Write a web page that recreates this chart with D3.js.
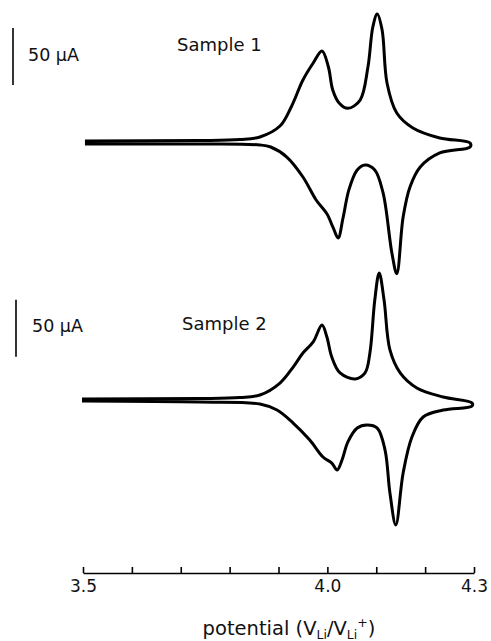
<!DOCTYPE html>
<html>
<head>
<meta charset="utf-8">
<script src="https://cdn.jsdelivr.net/npm/d3@7"></script>
<style>
  body { margin: 0; background: #fff; }
  text { font-family: "DejaVu Sans", sans-serif; fill: #111; }
</style>
</head>
<body>
<svg width="491" height="641"></svg>
<script>
// potential (V) / current (uA), anodic sweep then cathodic sweep
const sample1Potential = [3.504, 3.739, 3.821, 3.862, 3.903, 3.926, 3.950, 3.971, 3.989, 4.002, 4.011, 4.024, 4.042, 4.067, 4.083, 4.093, 4.102, 4.112, 4.122, 4.142, 4.175, 4.230, 4.292,
  4.292, 4.230, 4.190, 4.169, 4.155, 4.142, 4.132, 4.114, 4.097, 4.077, 4.061, 4.044, 4.032, 4.022, 4.012, 3.999, 3.977, 3.950, 3.917, 3.884, 3.862, 3.739, 3.504];
const sample1Current = [0.9, 1.3, 2.2, 4.4, 14.0, 30.7, 54.4, 69.3, 79.8, 66.0, 45.6, 34.2, 29.5, 36.8, 65.8, 100.9, 112.3, 98.2, 51.8, 25.4, 12.3, 3.5, -0.9,
  -4.4, -9.6, -21.9, -39.5, -65.8, -115.5, -97.4, -44.7, -24.6, -20.2, -24.6, -42.0, -66.7, -84.2, -75.4, -63.0, -50.9, -30.7, -13.2, -4.4, -2.6, -1.8, -1.8];

const sample2Potential = [3.498, 3.739, 3.821, 3.862, 3.903, 3.930, 3.950, 3.971, 3.989, 3.999, 4.009, 4.026, 4.057, 4.077, 4.087, 4.097, 4.106, 4.116, 4.128, 4.149, 4.183, 4.237, 4.296,
  4.296, 4.237, 4.196, 4.173, 4.155, 4.140, 4.128, 4.118, 4.102, 4.081, 4.061, 4.042, 4.030, 4.020, 4.009, 3.991, 3.964, 3.930, 3.897, 3.862, 3.739, 3.498];
const sample2Current = [0.9, 1.3, 2.2, 4.4, 14.9, 28.9, 41.2, 50.9, 65.8, 55.3, 37.7, 23.7, 18.4, 23.7, 41.2, 87.7, 111.4, 87.7, 43.9, 23.7, 10.5, 2.6, -2.6,
  -5.3, -8.8, -14.9, -32.5, -64.0, -109.6, -81.6, -43.9, -24.6, -21.9, -24.6, -36.8, -52.6, -61.4, -55.3, -50.0, -35.1, -20.2, -8.8, -3.5, -1.8, -0.9];

const tickValues = [3.5, 3.6, 3.7, 3.8, 3.9, 4.0, 4.1, 4.2, 4.3];
const tickLabels = [3.5, 4.0, 4.3];
const sampleNames = ["Sample 1", "Sample 2"];
const scaleBarLabel = "50 \u00b5A";

const svg = d3.select("svg");

const x = d3.scaleLinear().domain([3.5, 4.3]).range([83, 474]);
// 50 uA = 57 px, each panel has its own zero line
const y1 = d3.scaleLinear().domain([0, 50]).range([142, 85]);
const y2 = d3.scaleLinear().domain([0, 50]).range([400, 343]);

const line = d3.line().curve(d3.curveCatmullRom.alpha(0.5));

const panels = [
  { name: sampleNames[0], y: y1, v: sample1Potential, i: sample1Current, barFrom: 50, barX: 13, labelX: 28, nameX: 177, nameY: 45 },
  { name: sampleNames[1], y: y2, v: sample2Potential, i: sample2Current, barFrom: 38, barX: 16, labelX: 32, nameX: 182, nameY: 324 }
];

panels.forEach((p) => {
  const pts = p.v.map((v, k) => [x(v), p.y(p.i[k])]);
  svg.append("path")
    .attr("d", line(pts))
    .attr("fill", "none")
    .attr("stroke", "#000")
    .attr("stroke-width", 3)
    .attr("stroke-linejoin", "round");

  // 50 uA scale bar
  const top = p.y(p.barFrom + 50);
  const bottom = p.y(p.barFrom);
  svg.append("line")
    .attr("x1", p.barX).attr("x2", p.barX)
    .attr("y1", top).attr("y2", bottom)
    .attr("stroke", "#000")
    .attr("stroke-width", 1.6);
  svg.append("text")
    .attr("x", p.labelX)
    .attr("y", (top + bottom) / 2 - 2)
    .attr("dy", "0.35em")
    .attr("font-size", 17.5)
    .text(scaleBarLabel);

  svg.append("text")
    .attr("x", p.nameX)
    .attr("y", p.nameY)
    .attr("dy", "0.35em")
    .attr("font-size", 18)
    .text(p.name);
});

const axis = d3.axisBottom(x)
  .tickValues(tickValues)
  .tickSize(-6)
  .tickSizeOuter(0)
  .tickPadding(7)
  .tickFormat((d) => tickLabels.some((t) => Math.abs(t - d) < 1e-9) ? d3.format(".1f")(d) : "");

const gx = svg.append("g")
  .attr("transform", "translate(0,573)")
  .call(axis);
gx.select(".domain").attr("stroke", "#000").attr("stroke-width", 1.6);
gx.selectAll(".tick line").attr("stroke", "#000").attr("stroke-width", 1.6);
gx.selectAll(".tick text")
  .attr("font-size", 17)
  .attr("font-family", "DejaVu Sans, sans-serif")
  .attr("fill", "#111");

const title = svg.append("text")
  .attr("x", 289)
  .attr("y", 635)
  .attr("text-anchor", "middle")
  .attr("font-size", 19.5);
title.append("tspan").text("potential (V");
title.append("tspan").attr("font-size", 12.5).attr("dy", 4).text("Li");
title.append("tspan").attr("dy", -4).text("/V");
title.append("tspan").attr("font-size", 12.5).attr("dy", 4).text("Li");
title.append("tspan").attr("font-size", 12.5).attr("dy", -12).text("+");
title.append("tspan").attr("dy", 8).text(")");
</script>
</body>
</html>
